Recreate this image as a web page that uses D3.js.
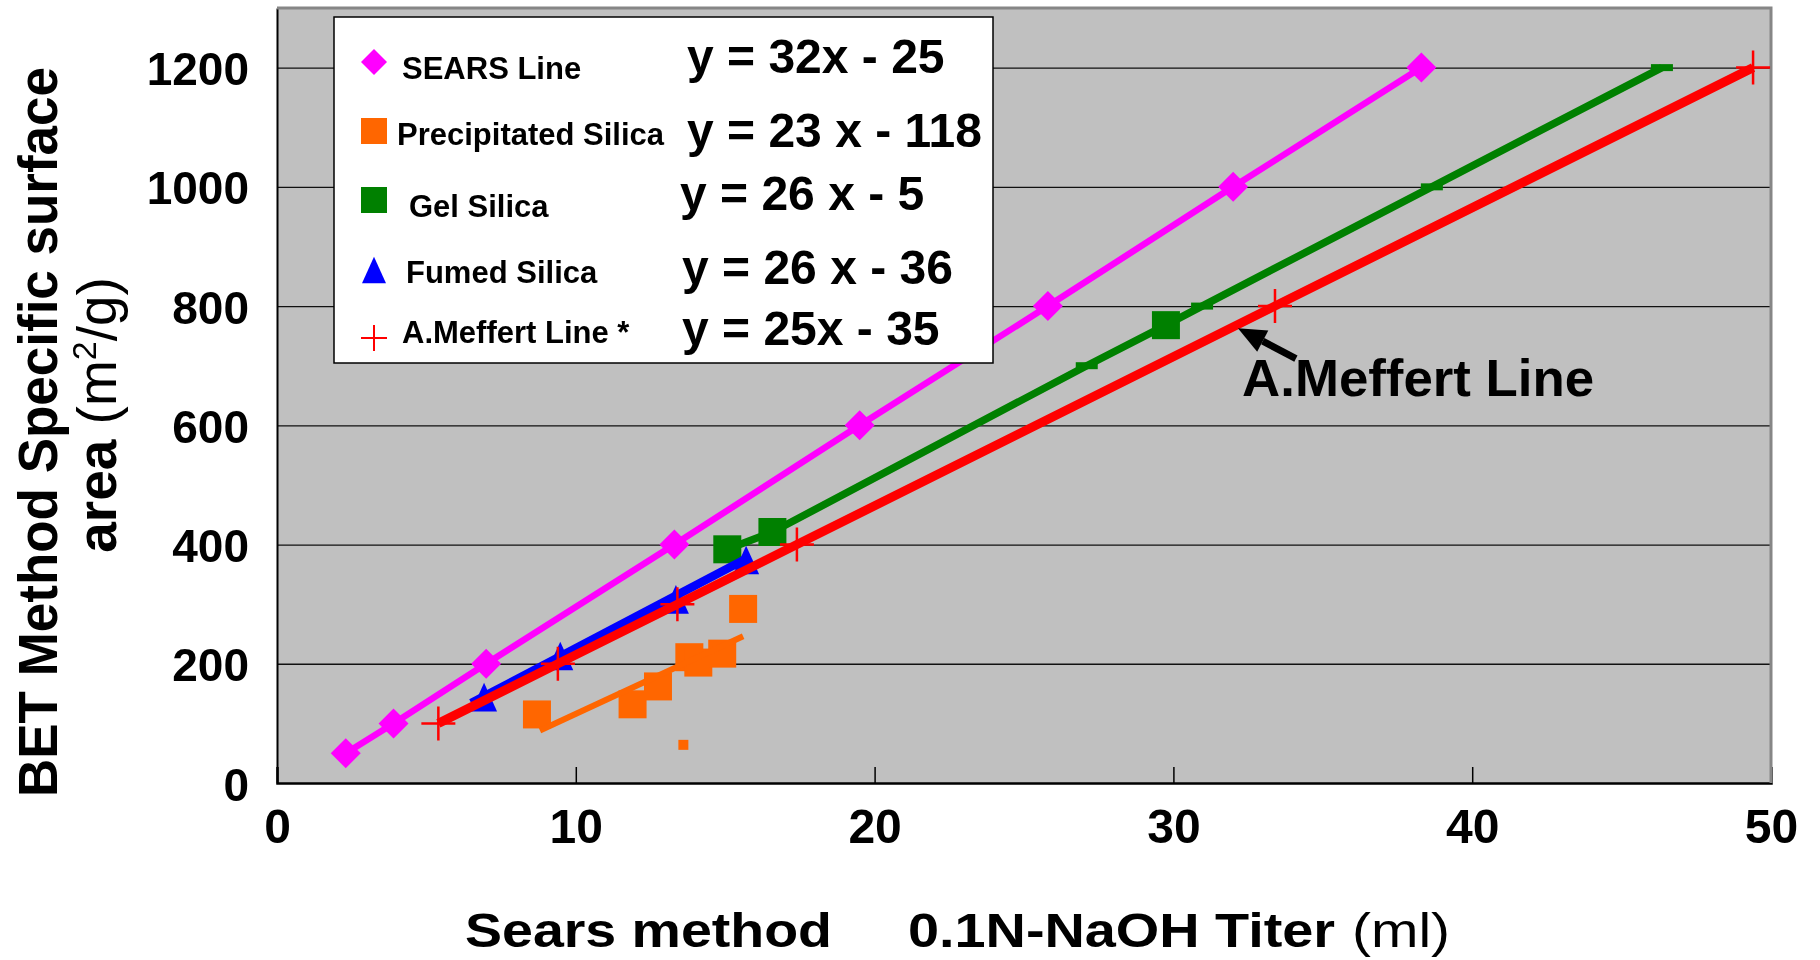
<!DOCTYPE html>
<html>
<head>
<title>BET vs Sears titer</title>
<style>
body {
    margin: 0;
    background: #fff;
}

#chart {
    position: fixed;
    top: 0px;
    left: 0px;
}

text {
    font-family: 'Liberation Sans', Arial, sans-serif;
    fill: #000;
}

.bold {
    font-weight: bold;
}
</style>
</head>
<body>

<script src="https://d3js.org/d3.v7.min.js"></script>

<svg id='chart' width='1820' height='960'></svg>

<script>
// values
const searsX = [2.3, 3.9, 7.0, 13.3, 19.5, 25.8, 32.0, 38.3];
const searsY = [50, 100, 200, 400, 600, 800, 1000, 1200];

const precipX = [8.7, 11.9, 12.75, 13.8, 14.1, 14.9, 15.6];
const precipY = [115, 132, 162, 211, 202, 217, 292];
const precipLowX = [13.6];
const precipLowY = [64];
const precipFitX = [8.8, 15.6];
const precipFitY = [88, 246];

const gelX = [15.07, 16.58, 29.75];
const gelY = [392, 421, 768];
const gelLineX = [27.1, 30.96, 38.65, 46.35];
const gelLineY = [700, 800, 1000, 1200];

const fumedX = [6.93, 9.48, 13.35, 15.7];
const fumedY = [144, 213, 308, 374];
const fumedFitX = [6.5, 15.7];
const fumedFitY = [134, 376];

const meffertX = [5.4, 9.4, 13.4, 17.4, 33.4, 49.4];
const meffertY = [100, 200, 300, 400, 800, 1200];

const xTicks = [0, 10, 20, 30, 40, 50];
const yTicks = [0, 200, 400, 600, 800, 1000, 1200];
const gridTicks = [200, 400, 600, 800, 1000, 1200];

const legendLabels = ['SEARS Line', 'Precipitated Silica', 'Gel Silica', 'Fumed Silica', 'A.Meffert Line *'];
const legendEquations = ['y = 32x - 25', 'y = 23 x - 118', 'y = 26 x - 5', 'y = 26 x - 36', 'y = 25x - 35'];

const annotationText = 'A.Meffert Line';
const annotationAt = [32.3, 649];
const arrowTail = [34.1, 712];
const arrowTip = [32.16, 763];

// layout
const plot = {left: 277, right: 1771, top: 8, bottom: 783};
const colors = {sears: '#ff00ff', precip: '#ff6600', gel: '#008000', fumed: '#0000ff', meffert: '#ff0000'};
const legendShapes = ['diamond', 'square', 'square', 'triangle', 'plus'];
const legendColors = [colors.sears, colors.precip, colors.gel, colors.fumed, colors.meffert];
const legendMarkerY = [62, 131, 200, 270, 338];
const legendLabelX = [402, 397, 409, 406, 402];
const legendLabelY = [79, 145, 217, 283, 343];
const legendEqX = [687, 687, 680, 682, 682];
const legendEqY = [73, 147, 210, 284, 345];

const pts = (xs, ys) => xs.map((v, i) => [v, ys[i]]);

const x = d3.scaleLinear().domain([0, 50]).range([plot.left, plot.right]);
const y = d3.scaleLinear().domain([0, 1300]).range([plot.bottom, plot.top]);

const svg = d3.select('#chart');

svg.append('rect')
    .attr('x', plot.left)
    .attr('y', plot.top)
    .attr('width', plot.right - plot.left)
    .attr('height', plot.bottom - plot.top)
    .attr('fill', '#c0c0c0');

// gridlines
const grid = svg.append('g')
    .attr('transform', `translate(${plot.left},0)`)
    .call(d3.axisLeft(y).tickValues(gridTicks).tickSize(-(plot.right - plot.left)).tickFormat(''));
grid.select('.domain').remove();
grid.selectAll('line').attr('stroke', '#111').attr('stroke-width', 1.3);

// x axis with inner ticks
const xAxisG = svg.append('g')
    .attr('transform', `translate(0,${plot.bottom})`)
    .call(d3.axisBottom(x).tickValues(xTicks).tickSize(-16).tickPadding(26).tickFormat(d3.format('d')));
xAxisG.selectAll('.tick line')
    .filter(d => d === 0 || d === 50)
    .remove();
xAxisG.selectAll('.tick line').attr('stroke', '#000').attr('stroke-width', 1.5);
xAxisG.select('.domain').attr('stroke', '#000').attr('stroke-width', 2.5);
xAxisG.attr('font-family', null).attr('font-size', null);
xAxisG.selectAll('text')
    .attr('class', 'bold')
    .style('font-size', '48px');

// y axis
const yAxisG = svg.append('g')
    .attr('transform', `translate(${plot.left},0)`)
    .call(d3.axisLeft(y).tickValues(yTicks).tickSize(0).tickPadding(28).tickFormat(d3.format('d')));
yAxisG.select('.domain').attr('stroke', '#000').attr('stroke-width', 2);
yAxisG.attr('font-family', null).attr('font-size', null);
yAxisG.selectAll('text')
    .attr('class', 'bold')
    .attr('dy', '0.37em')
    .style('font-size', '46px');

// top and right frame
svg.append('path')
    .attr('d', `M${plot.left},${plot.top}H${plot.right}V${plot.bottom}`)
    .attr('fill', 'none')
    .attr('stroke', '#868686')
    .attr('stroke-width', 3);

function markerPath(shape, size){
    const h = size / 2;
    if (shape === 'diamond') return `M0,${-h}L${h},0L0,${h}L${-h},0Z`;
    if (shape === 'square') return `M${-h},${-h}H${h}V${h}H${-h}Z`;
    if (shape === 'triangle') return `M0,${-h * 1.1}L${h},${h * 1.1}L${-h},${h * 1.1}Z`;
    if (shape === 'plus') return `M${-h},0H${h}M0,${-h}V${h}`;
    if (shape === 'dash') return `M-11,-3.5H11V3.5H-11Z`;
}

function drawMarkers(data, shape, size, color){
    const isPlus = shape === 'plus';
    svg.append('g')
        .selectAll('path')
        .data(data)
        .enter()
        .append('path')
            .attr('transform', d => `translate(${x(d[0])},${y(d[1])})`)
            .attr('d', markerPath(shape, size))
            .attr('fill', isPlus ? 'none' : color)
            .attr('stroke', isPlus ? color : 'none')
            .attr('stroke-width', isPlus ? 2.5 : 0);
}

const line = d3.line().x(d => x(d[0])).y(d => y(d[1]));

function drawLine(data, color, width){
    svg.append('path')
        .datum(data)
        .attr('d', line)
        .attr('fill', 'none')
        .attr('stroke', color)
        .attr('stroke-width', width)
        .attr('stroke-linejoin', 'round');
}

// SEARS line
drawLine(pts(searsX, searsY), colors.sears, 6.5);
drawMarkers(pts(searsX, searsY), 'diamond', 30, colors.sears);

// precipitated silica
drawMarkers(pts(precipX, precipY), 'square', 28, colors.precip);
drawMarkers(pts(precipLowX, precipLowY), 'square', 10, colors.precip);
drawLine(pts(precipFitX, precipFitY), colors.precip, 6);

// gel silica
const gelAll = pts(gelX, gelY).concat(pts(gelLineX, gelLineY)).sort((a, b) => a[0] - b[0]);
drawLine(gelAll, colors.gel, 7.5);
drawMarkers(pts(gelLineX, gelLineY), 'dash', 0, colors.gel);
drawMarkers(pts(gelX, gelY), 'square', 28, colors.gel);

// fumed silica
drawLine(pts(fumedFitX, fumedFitY), colors.fumed, 8.5);
drawMarkers(pts(fumedX, fumedY), 'triangle', 26, colors.fumed);

// A.Meffert line
drawLine(pts(meffertX, meffertY), colors.meffert, 9);
drawMarkers(pts(meffertX, meffertY), 'plus', 34, colors.meffert);

// legend
svg.append('rect')
    .attr('x', 334)
    .attr('y', 17)
    .attr('width', 659)
    .attr('height', 346)
    .attr('fill', '#fff')
    .attr('stroke', '#000')
    .attr('stroke-width', 1.5);

const legend = svg.append('g');
legendLabels.forEach((label, i) => {
    const shape = legendShapes[i];
    legend.append('path')
        .attr('transform', `translate(374,${legendMarkerY[i]})`)
        .attr('d', markerPath(shape, shape === 'triangle' ? 24 : 26))
        .attr('fill', shape === 'plus' ? 'none' : legendColors[i])
        .attr('stroke', shape === 'plus' ? legendColors[i] : 'none')
        .attr('stroke-width', shape === 'plus' ? 2 : 0);

    legend.append('text')
        .attr('class', 'bold')
        .attr('x', legendLabelX[i])
        .attr('y', legendLabelY[i])
        .style('font-size', '31px')
        .text(label);

    legend.append('text')
        .attr('class', 'bold')
        .attr('x', legendEqX[i])
        .attr('y', legendEqY[i])
        .style('font-size', '48px')
        .text(legendEquations[i]);
});

// annotation arrow
const tip = [x(arrowTip[0]), y(arrowTip[1])];
const tail = [x(arrowTail[0]), y(arrowTail[1])];
const ang = Math.atan2(tip[1] - tail[1], tip[0] - tail[0]);
const headLen = 28, headHalf = 12;
const base = [tip[0] - headLen * Math.cos(ang), tip[1] - headLen * Math.sin(ang)];
svg.append('line')
    .attr('x1', tail[0]).attr('y1', tail[1])
    .attr('x2', base[0]).attr('y2', base[1])
    .attr('stroke', '#000')
    .attr('stroke-width', 7);
svg.append('path')
    .attr('d', `M${tip[0]},${tip[1]}` +
        `L${base[0] + headHalf * Math.sin(ang)},${base[1] - headHalf * Math.cos(ang)}` +
        `L${base[0] - headHalf * Math.sin(ang)},${base[1] + headHalf * Math.cos(ang)}Z`)
    .attr('fill', '#000');

svg.append('text')
    .attr('class', 'bold')
    .attr('x', x(annotationAt[0]))
    .attr('y', y(annotationAt[1]))
    .attr('textLength', 352)
    .attr('lengthAdjust', 'spacingAndGlyphs')
    .style('font-size', '52px')
    .text(annotationText);

// axis titles
svg.append('text')
    .attr('transform', 'translate(57,432) rotate(-90)')
    .attr('class', 'bold')
    .attr('text-anchor', 'middle')
    .attr('textLength', 730)
    .attr('lengthAdjust', 'spacingAndGlyphs')
    .style('font-size', '55px')
    .text('BET Method Specific surface');

const yTitle2 = svg.append('text')
    .attr('transform', 'translate(116,415) rotate(-90)')
    .attr('text-anchor', 'middle')
    .style('font-size', '55px');
yTitle2.append('tspan').attr('class', 'bold').text('area ');
yTitle2.append('tspan').text('(m');
yTitle2.append('tspan').attr('dy', -20).style('font-size', '34px').text('2');
yTitle2.append('tspan').attr('dy', 20).text('/g)');

const xTitleParts = [
    {text: 'Sears method', x: 465, len: 367, bold: true},
    {text: '0.1N-NaOH Titer', x: 908, len: 427, bold: true},
    {text: '(ml)', x: 1352, len: 98, bold: false}
];
svg.append('g')
    .selectAll('text')
    .data(xTitleParts)
    .enter()
    .append('text')
        .attr('class', d => d.bold ? 'bold' : null)
        .attr('x', d => d.x)
        .attr('y', 947)
        .attr('textLength', d => d.len)
        .attr('lengthAdjust', 'spacingAndGlyphs')
        .style('font-size', '48px')
        .text(d => d.text);
</script>
</body>
</html>
